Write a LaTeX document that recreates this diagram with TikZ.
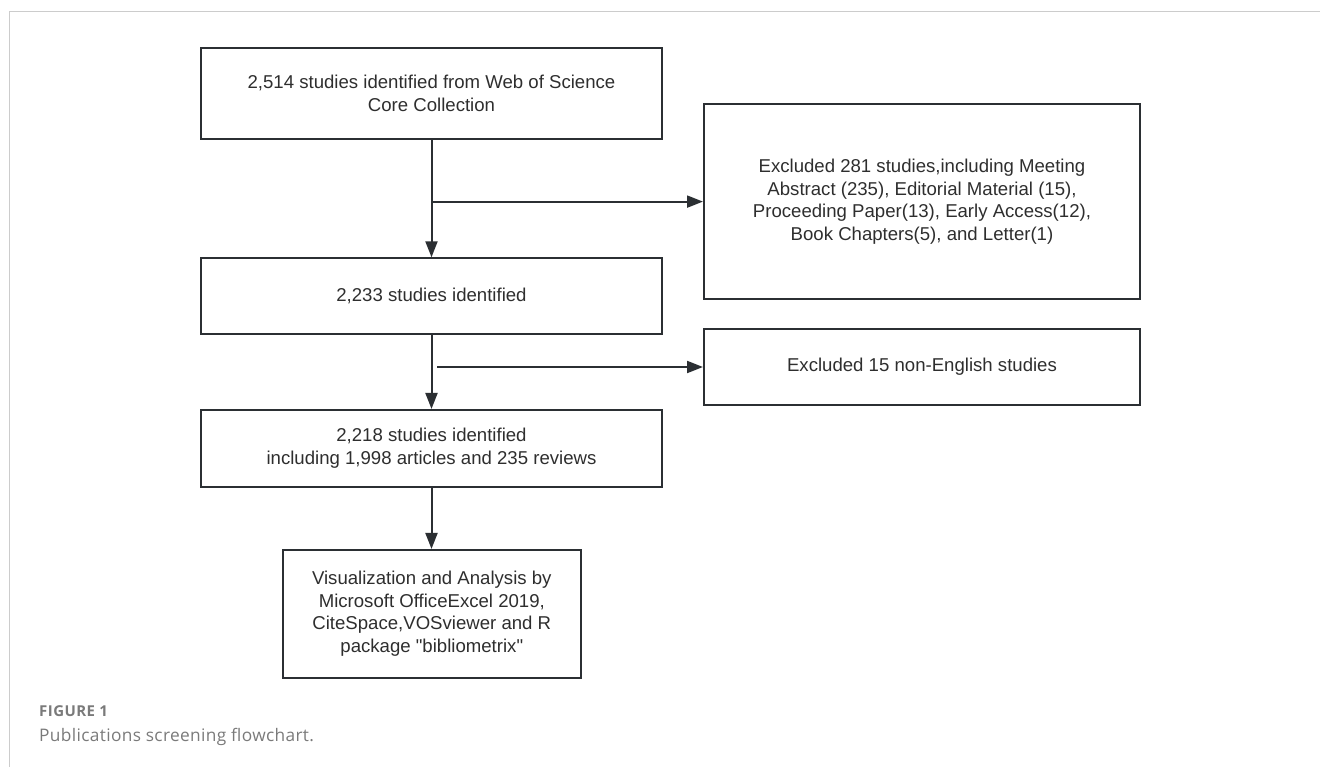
\documentclass[tikz,border=0pt]{standalone}
\usepackage{fontspec}
\setmainfont{Liberation Sans}[Ligatures=TeXOff]
\newfontfamily\capfont{Open Sans}[LetterSpace=2]
\newfontfamily\caplabelfont{Open Sans}[LetterSpace=3]
\usetikzlibrary{arrows.meta,positioning}
\definecolor{boxline}{HTML}{2B2F33}
\definecolor{boxtext}{HTML}{2E2E2E}
\definecolor{frameline}{HTML}{CCCCCC}
\definecolor{capgray}{HTML}{7A7A7A}
\tikzset{
  flowbox/.style={draw=boxline, line width=2pt, rectangle, inner sep=0pt,
    align=center, text=boxtext, font=\fontsize{18.6}{22.7}\selectfont},
  flowarrow/.style={draw=boxline, line width=2pt, -{Triangle[length=16pt,width=12pt]}},
  framestyle/.style={draw=frameline, line width=1pt},
  figlabel/.style={text=capgray, inner sep=0pt, font=\caplabelfont\bfseries\fontsize{15}{17}\selectfont},
  figcaption/.style={text=capgray, inner sep=0pt, font=\capfont\fontsize{17.3}{20}\selectfont}
}
\begin{document}
\begin{tikzpicture}[x=1pt,y=-1pt]
\useasboundingbox (0,0) rectangle (1320,767);
% card frame (top and left edges)
\draw[framestyle] (9.3,767) -- (9.3,11.3) -- (1320,11.3);

\node[flowbox, minimum width=461pt, minimum height=90.4pt] (b1) at (431.5,93.5)
  {2,514 studies identified from Web of Science\\Core Collection};
\node[flowbox, minimum width=461pt, minimum height=76pt] (b2) at (431.5,296.3)
  {2,233 studies identified};
\node[flowbox, minimum width=461pt, minimum height=76.7pt] (b3) at (431.5,448.3)
  {2,218 studies identified\\including 1,998 articles and 235 reviews};
\node[flowbox, minimum width=298.3pt, minimum height=127.7pt] (b4) at (431.8,613.8)
  {Visualization and Analysis by\\ Microsoft OfficeExcel 2019,\\CiteSpace,VOSviewer and R\\package "bibliometrix"};
\node[flowbox, minimum width=436pt, minimum height=194.7pt] (ex1) at (922,201.6)
  {Excluded 281 studies,including Meeting\\Abstract (235), Editorial Material (15),\\Proceeding Paper(13), Early Access(12),\\Book Chapters(5), and Letter(1)};
\node[flowbox, minimum width=436pt, minimum height=76pt] (ex2) at (922,367)
  {Excluded 15 non-English studies};

\coordinate (j1) at (431.5,201.6);
\coordinate (j2) at (437,367);

\draw[flowarrow] (b1.south) -- (b2.north);
\draw[flowarrow] (j1) -- (ex1.west);
\draw[flowarrow] (b2.south) -- (b3.north);
\draw[flowarrow] (j2) -- (ex2.west);
\draw[flowarrow] (b3.south) -- (b3.south |- b4.north);

\node[figlabel, anchor=base west] (figno) at (39,716) {FIGURE 1};
\node[figcaption, anchor=base west] (figcap) at (39,741) {Publications screening flowchart.};
\end{tikzpicture}
\end{document}
